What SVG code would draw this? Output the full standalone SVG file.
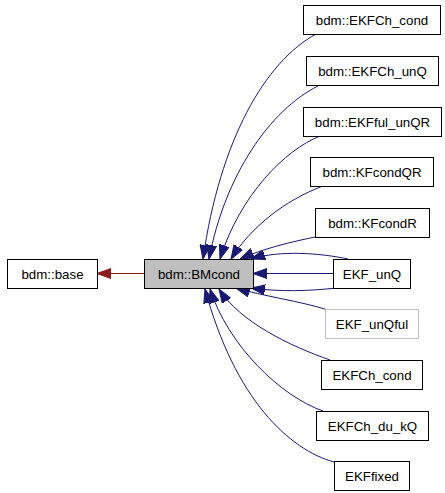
<svg xmlns="http://www.w3.org/2000/svg" width="445" height="493" viewBox="0 0 445 493">
<defs>
<style>
.box{fill:#fff;stroke:#000;stroke-width:1}
.cur{fill:#bfbfbf;stroke:#000;stroke-width:1}
.undoc{fill:#fff;stroke:#bfbfbf;stroke-width:1}
.lbl{font-family:"Liberation Sans",Arial,sans-serif;font-size:13.3px;fill:#000;text-anchor:middle}
.e{fill:none;stroke:#191970;stroke-width:1}
.r{fill:none;stroke:#8b1a1a;stroke-width:1}
</style>
<marker id="ab" markerUnits="userSpaceOnUse" markerWidth="14" markerHeight="11" viewBox="0 0 13 10" refX="13" refY="5" orient="auto">
<path d="M0,0.4 L13,5 L0,9.6 z" fill="#191970" stroke="#191970"/>
</marker>
<marker id="ar" markerUnits="userSpaceOnUse" markerWidth="14" markerHeight="11" viewBox="0 0 13 10" refX="13" refY="5" orient="auto">
<path d="M0,0.4 L13,5 L0,9.6 z" fill="#8b1a1a" stroke="#8b1a1a"/>
</marker>
</defs>
<g id="connectors">
<path class="r" marker-end="url(#ar)" d="M144,273.5 L97,273.5"/>
<path class="e" marker-end="url(#ab)" d="M316,34 C265,62 220,140 203,259"/>
<path class="e" marker-end="url(#ab)" d="M318,86 C270,110 225,175 209,259"/>
<path class="e" marker-end="url(#ab)" d="M320,136 C285,150 240,195 220,259"/>
<path class="e" marker-end="url(#ab)" d="M323,186 C285,200 250,228 231,259"/>
<path class="e" marker-end="url(#ab)" d="M320,236 C290,242 262,249 240,259"/>
<path class="e" marker-end="url(#ab)" d="M348,259 C320,253 280,250 251,259"/>
<path class="e" marker-end="url(#ab)" d="M333,273.5 L253,273.5"/>
<path class="e" marker-end="url(#ab)" d="M336,288 C310,291 280,292 251,288"/>
<path class="e" marker-end="url(#ab)" d="M328,310 C300,301 262,296 236,288"/>
<path class="e" marker-end="url(#ab)" d="M330,360 C290,346 240,322 219,289"/>
<path class="e" marker-end="url(#ab)" d="M323,411 C280,396 228,345 210,289"/>
<path class="e" marker-end="url(#ab)" d="M334,462 C290,450 235,400 205,289"/>
</g>
<g id="base"><rect class="box" x="7.5" y="259.5" width="90" height="29"/><text class="lbl" x="52.5" y="278.5">bdm::base</text></g>
<g id="BMcond"><rect class="cur" x="144.5" y="259.5" width="109" height="29"/><text class="lbl" x="199" y="278.5">bdm::BMcond</text></g>
<g id="EKFCh_cond_bdm"><rect class="box" x="303.5" y="5.5" width="137" height="29"/><text class="lbl" x="372" y="24.5">bdm::EKFCh_cond</text></g>
<g id="EKFCh_unQ"><rect class="box" x="306.5" y="56.5" width="132" height="29"/><text class="lbl" x="372.5" y="75.5">bdm::EKFCh_unQ</text></g>
<g id="EKFful_unQR"><rect class="box" x="303.5" y="107.5" width="138" height="29"/><text class="lbl" x="372.5" y="126.5">bdm::EKFful_unQR</text></g>
<g id="KFcondQR"><rect class="box" x="310.5" y="157.5" width="123" height="29"/><text class="lbl" x="372" y="176.5">bdm::KFcondQR</text></g>
<g id="KFcondR"><rect class="box" x="315.5" y="208.5" width="114" height="29"/><text class="lbl" x="372.5" y="227.5">bdm::KFcondR</text></g>
<g id="EKF_unQ"><rect class="box" x="333.5" y="259.5" width="77" height="29"/><text class="lbl" x="372" y="278.5">EKF_unQ</text></g>
<g id="EKF_unQful"><rect class="undoc" x="325.5" y="309.5" width="93" height="29"/><text class="lbl" x="372" y="328.5">EKF_unQful</text></g>
<g id="EKFCh_cond"><rect class="box" x="321.5" y="360.5" width="101" height="29"/><text class="lbl" x="372" y="379.5">EKFCh_cond</text></g>
<g id="EKFCh_du_kQ"><rect class="box" x="316.5" y="411.5" width="112" height="29"/><text class="lbl" x="372.5" y="430.5">EKFCh_du_kQ</text></g>
<g id="EKFfixed"><rect class="box" x="334.5" y="461.5" width="75" height="29"/><text class="lbl" x="372" y="480.5">EKFfixed</text></g>
</svg>
